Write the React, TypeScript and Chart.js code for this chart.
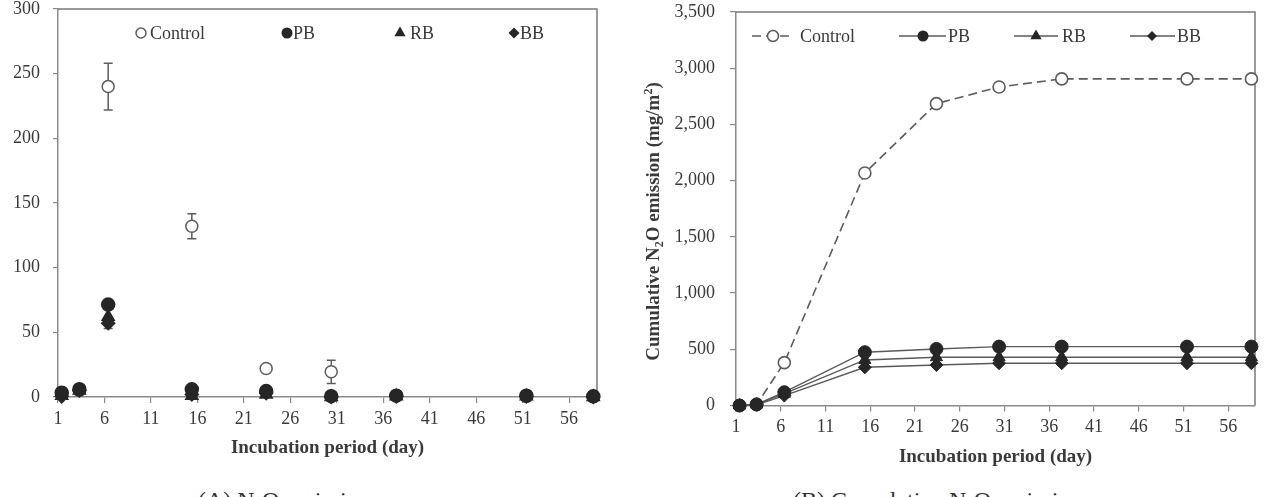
import React, { useEffect, useRef } from 'react';
import { Chart, registerables } from 'chart.js';

Chart.register(...registerables);

const FONT = "'Liberation Serif', 'Times New Roman', serif";
const INK = '#3a3a3a';
const AXIS = '#8a8a8a';
const FRAME = '#7a7a7a';
const MARK = '#262626';
const OPEN = '#5c5c5c';
const LINE = '#5a5a5a';

// Sampling days (incubation period)
const DAYS = [1.4, 3.3, 6.4, 15.4, 23.4, 30.4, 37.4, 51.4, 58.6];
const DAY_TICKS = [1, 6, 11, 16, 21, 26, 31, 36, 41, 46, 51, 56];
const SERIES = ['Control', 'PB', 'RB', 'BB'];

// (A) N2O emission on each sampling day
const EMIT_CONTROL = [3, 5, 240, 132, 22, 19.5, 1, 0.5, 0.3];
const EMIT_CONTROL_ERR = [0, 0, 18, 9.7, 0, 9, 0, 0, 0];
const EMIT_PB = [3.3, 6, 71.5, 5.9, 4.6, 0.6, 1, 1, 0.5];
const EMIT_RB = [1, 5, 62, 1, 2, 0, 0.5, 0.5, 0];
const EMIT_BB = [0.5, 5, 57, 2, 3, 0, 0.5, 0.5, 0];
const EMIT_BB_ERR = [0, 0, 4, 0, 0, 0, 0, 0, 0];

// (B) Cumulative N2O emission
const CUM_CONTROL = [0, 8, 381, 2068, 2685, 2833, 2905, 2905, 2905];
const CUM_PB = [0, 10, 118, 474, 503, 524, 524, 524, 524];
const CUM_RB = [0, 8, 105, 405, 429, 429, 429, 429, 429];
const CUM_BB = [0, 6, 88, 340, 360, 376, 376, 376, 376];

type MarkerStyle = 'circle' | 'triangle' | 'rectRot';

const pts = (ys: number[]) => DAYS.map((x, i) => ({ x, y: ys[i] }));

function markerPath(ctx: CanvasRenderingContext2D, style: MarkerStyle, x: number, y: number, r: number) {
  ctx.beginPath();
  if (style === 'circle') {
    ctx.arc(x, y, r, 0, Math.PI * 2);
  } else if (style === 'triangle') {
    ctx.moveTo(x, y - r);
    ctx.lineTo(x + r * 0.866, y + r * 0.5);
    ctx.lineTo(x - r * 0.866, y + r * 0.5);
    ctx.closePath();
  } else {
    ctx.moveTo(x - r, y);
    ctx.lineTo(x, y - r);
    ctx.lineTo(x + r, y);
    ctx.lineTo(x, y + r);
    ctx.closePath();
  }
}

type LegendEntry = {
  label: string;
  style: MarkerStyle;
  open: boolean;
  r: number;
  marker: number;
  text: number;
  line?: [number, number];
  dashed?: boolean;
};

function legendPlugin(entries: LegendEntry[], dy: number) {
  return {
    id: 'inlineLegend',
    afterDraw(chart: any) {
      const { ctx, chartArea } = chart;
      const y = chartArea.top + dy;
      const x0 = chartArea.left;
      ctx.save();
      for (const e of entries) {
        if (e.line) {
          ctx.beginPath();
          ctx.strokeStyle = e.dashed ? OPEN : LINE;
          ctx.lineWidth = 1.5;
          ctx.setLineDash(e.dashed ? [9, 5] : []);
          ctx.moveTo(x0 + e.line[0], y);
          ctx.lineTo(x0 + e.line[1], y);
          ctx.stroke();
          ctx.setLineDash([]);
        }
        markerPath(ctx, e.style, x0 + e.marker, y, e.r);
        if (e.open) {
          ctx.fillStyle = '#fff';
          ctx.fill();
          ctx.strokeStyle = OPEN;
          ctx.lineWidth = 1.5;
          ctx.stroke();
        } else {
          ctx.fillStyle = MARK;
          ctx.fill();
        }
        ctx.fillStyle = INK;
        ctx.font = `18px ${FONT}`;
        ctx.textAlign = 'left';
        ctx.textBaseline = 'middle';
        ctx.fillText(e.label, x0 + e.text, y + 1);
      }
      ctx.restore();
    },
  };
}

// Top and right sides of the plot frame
const framePlugin = {
  id: 'plotFrame',
  beforeDatasetsDraw(chart: any) {
    const { ctx, chartArea } = chart;
    ctx.save();
    ctx.strokeStyle = FRAME;
    ctx.lineWidth = 1.5;
    ctx.beginPath();
    ctx.moveTo(chartArea.left, chartArea.top);
    ctx.lineTo(chartArea.right, chartArea.top);
    ctx.lineTo(chartArea.right, chartArea.bottom);
    ctx.stroke();
    ctx.restore();
  },
};

function errorBarPlugin(sets: { dataset: number; err: number[] }[]) {
  return {
    id: 'errorBars',
    beforeDatasetsDraw(chart: any) {
      const { ctx } = chart;
      const xs = chart.scales.x;
      const ys = chart.scales.y;
      ctx.save();
      ctx.strokeStyle = OPEN;
      ctx.lineWidth = 1.5;
      for (const s of sets) {
        const data = chart.data.datasets[s.dataset].data as { x: number; y: number }[];
        s.err.forEach((e, i) => {
          if (!e) return;
          const x = xs.getPixelForValue(data[i].x);
          const yTop = ys.getPixelForValue(data[i].y + e);
          const yBot = ys.getPixelForValue(data[i].y - e);
          ctx.beginPath();
          ctx.moveTo(x, yTop);
          ctx.lineTo(x, yBot);
          ctx.moveTo(x - 4.5, yTop);
          ctx.lineTo(x + 4.5, yTop);
          ctx.moveTo(x - 4.5, yBot);
          ctx.lineTo(x + 4.5, yBot);
          ctx.stroke();
        });
      }
      ctx.restore();
    },
  };
}

type Seg = { t: string; sub?: boolean; sup?: boolean };

function yTitlePlugin(segs: Seg[], cx: number, cy: number, size: number) {
  return {
    id: 'yTitle',
    afterDraw(chart: any) {
      const { ctx } = chart;
      const big = `bold ${size}px ${FONT}`;
      const small = `bold ${Math.round(size * 0.62)}px ${FONT}`;
      ctx.save();
      let total = 0;
      for (const s of segs) {
        ctx.font = s.sub || s.sup ? small : big;
        total += ctx.measureText(s.t).width;
      }
      ctx.translate(cx, cy);
      ctx.rotate(-Math.PI / 2);
      ctx.fillStyle = INK;
      ctx.textBaseline = 'alphabetic';
      ctx.textAlign = 'left';
      let x = -total / 2;
      const base = size * 0.33;
      for (const s of segs) {
        ctx.font = s.sub || s.sup ? small : big;
        const off = s.sub ? size * 0.22 : s.sup ? -size * 0.38 : 0;
        ctx.fillText(s.t, x, base + off);
        x += ctx.measureText(s.t).width;
      }
      ctx.restore();
    },
  };
}

function dayAxis(height: number, titleBottom: number) {
  return {
    type: 'linear' as const,
    min: 1,
    max: 59,
    afterBuildTicks: (s: any) => {
      s.ticks = DAY_TICKS.map((v) => ({ value: v }));
    },
    afterFit: (s: any) => {
      s.height = height;
      s.paddingLeft = 0;
      s.paddingRight = 0;
    },
    grid: { drawOnChartArea: false, drawTicks: true, tickLength: 6, color: AXIS, lineWidth: 1.2 },
    border: { display: true, color: AXIS, width: 1.5 },
    ticks: {
      color: INK,
      font: { family: FONT, size: 18 },
      padding: 5,
      maxRotation: 0,
      autoSkip: false,
      callback: (v: any) => String(v),
    },
    title: {
      display: true,
      text: 'Incubation period (day)',
      color: INK,
      font: { family: FONT, size: 19, weight: 'bold' as const },
      padding: { top: 0, bottom: titleBottom },
    },
  };
}

function valueAxis(max: number, step: number, width: number, tickLen: number, pad: number, fmt: (v: number) => string) {
  return {
    type: 'linear' as const,
    min: 0,
    max,
    afterFit: (s: any) => {
      s.width = width;
      s.paddingTop = 0;
      s.paddingBottom = 0;
    },
    grid: { drawOnChartArea: false, drawTicks: true, tickLength: tickLen, color: AXIS, lineWidth: 1.2 },
    border: { display: true, color: AXIS, width: 1.5 },
    ticks: {
      stepSize: step,
      color: INK,
      font: { family: FONT, size: 18 },
      padding: pad,
      callback: (v: any) => fmt(Number(v)),
    },
  };
}

const withCommas = (v: number) => String(Math.round(v)).replace(/\B(?=(\d{3})+(?!\d))/g, ',');

function emissionConfig(): any {
  const common = { showLine: false, clip: false as const, pointBorderWidth: 1.5 };
  return {
    type: 'scatter',
    data: {
      datasets: [
        {
          ...common,
          label: SERIES[0],
          data: pts(EMIT_CONTROL),
          pointStyle: 'circle',
          pointRadius: 6,
          pointBackgroundColor: '#fff',
          pointBorderColor: OPEN,
          order: 4,
        },
        {
          ...common,
          label: SERIES[1],
          data: pts(EMIT_PB),
          pointStyle: 'circle',
          pointRadius: 6.5,
          pointBackgroundColor: MARK,
          pointBorderColor: MARK,
          order: 1,
        },
        {
          ...common,
          label: SERIES[2],
          data: pts(EMIT_RB),
          pointStyle: 'triangle',
          pointRadius: 7,
          pointBackgroundColor: MARK,
          pointBorderColor: MARK,
          order: 2,
        },
        {
          ...common,
          label: SERIES[3],
          data: pts(EMIT_BB),
          pointStyle: 'rectRot',
          pointRadius: 6.5,
          pointBackgroundColor: MARK,
          pointBorderColor: MARK,
          order: 3,
        },
      ],
    },
    options: {
      animation: false,
      responsive: false,
      devicePixelRatio: 1,
      layout: { padding: { top: 9, right: 23, left: 0, bottom: 0 } },
      plugins: { legend: { display: false }, tooltip: { enabled: false } },
      scales: {
        x: dayAxis(78, 15.6),
        y: valueAxis(300, 50, 58, 5, 13, (v) => String(v)),
      },
    },
    plugins: [
      framePlugin,
      errorBarPlugin([
        { dataset: 0, err: EMIT_CONTROL_ERR },
        { dataset: 3, err: EMIT_BB_ERR },
      ]),
      legendPlugin(
        [
          { label: SERIES[0], style: 'circle', open: true, r: 5, marker: 83, text: 92 },
          { label: SERIES[1], style: 'circle', open: false, r: 5.5, marker: 229, text: 235 },
          { label: SERIES[2], style: 'triangle', open: false, r: 6.5, marker: 342, text: 352 },
          { label: SERIES[3], style: 'rectRot', open: false, r: 5.5, marker: 456, text: 462 },
        ],
        24,
      ),
    ],
  };
}

function cumulativeConfig(): any {
  const solid = { showLine: true, clip: false as const, borderColor: LINE, borderWidth: 1.4, tension: 0, pointBorderWidth: 1 };
  return {
    type: 'scatter',
    data: {
      datasets: [
        {
          showLine: true,
          clip: false,
          tension: 0,
          label: SERIES[0],
          data: pts(CUM_CONTROL),
          borderColor: OPEN,
          borderWidth: 1.6,
          borderDash: [9, 5],
          pointStyle: 'circle',
          pointRadius: 6,
          pointBackgroundColor: '#fff',
          pointBorderColor: OPEN,
          pointBorderWidth: 1.6,
          order: 4,
        },
        {
          ...solid,
          label: SERIES[1],
          data: pts(CUM_PB),
          pointStyle: 'circle',
          pointRadius: 6.5,
          pointBackgroundColor: MARK,
          pointBorderColor: MARK,
          order: 1,
        },
        {
          ...solid,
          label: SERIES[2],
          data: pts(CUM_RB),
          pointStyle: 'triangle',
          pointRadius: 7,
          pointBackgroundColor: MARK,
          pointBorderColor: MARK,
          order: 2,
        },
        {
          ...solid,
          label: SERIES[3],
          data: pts(CUM_BB),
          pointStyle: 'rectRot',
          pointRadius: 6.5,
          pointBackgroundColor: MARK,
          pointBorderColor: MARK,
          order: 3,
        },
      ],
    },
    options: {
      animation: false,
      responsive: false,
      devicePixelRatio: 1,
      layout: { padding: { top: 12, right: 11, left: 0, bottom: 0 } },
      plugins: { legend: { display: false }, tooltip: { enabled: false } },
      scales: {
        x: dayAxis(69.5, 6.9),
        y: valueAxis(3500, 500, 106, 6, 15, withCommas),
      },
    },
    plugins: [
      framePlugin,
      legendPlugin(
        [
          { label: SERIES[0], style: 'circle', open: true, r: 5.5, marker: 37, text: 64, line: [16, 54], dashed: true },
          { label: SERIES[1], style: 'circle', open: false, r: 5.5, marker: 187, text: 212, line: [163, 210] },
          { label: SERIES[2], style: 'triangle', open: false, r: 6.5, marker: 300, text: 326, line: [278, 322] },
          { label: SERIES[3], style: 'rectRot', open: false, r: 5, marker: 416, text: 441, line: [394, 439] },
        ],
        24,
      ),
      yTitlePlugin(
        [
          { t: 'Cumulative N' },
          { t: '2', sub: true },
          { t: 'O emission (mg/m' },
          { t: '2', sup: true },
          { t: ')' },
        ],
        23,
        221.5,
        19,
      ),
    ],
  };
}

const captionStyle = (left: number): React.CSSProperties => ({
  position: 'absolute',
  left,
  top: 488,
  fontFamily: FONT,
  fontSize: 24,
  lineHeight: '24px',
  color: '#333',
  whiteSpace: 'nowrap',
});

const subStyle: React.CSSProperties = { fontSize: '0.62em', verticalAlign: '-0.25em', lineHeight: 0 };

export default function App() {
  const leftRef = useRef<HTMLCanvasElement>(null);
  const rightRef = useRef<HTMLCanvasElement>(null);

  useEffect(() => {
    const a = new Chart(leftRef.current as HTMLCanvasElement, emissionConfig());
    const b = new Chart(rightRef.current as HTMLCanvasElement, cumulativeConfig());
    return () => {
      a.destroy();
      b.destroy();
    };
  }, []);

  return (
    <div
      style={{
        position: 'fixed',
        left: 0,
        top: 0,
        width: 1266,
        height: 497,
        overflow: 'hidden',
        background: '#fff',
      }}
    >
      <canvas
        ref={leftRef}
        width={620}
        height={475}
        style={{ position: 'absolute', left: 0, top: 0, width: 620, height: 475 }}
      />
      <canvas
        ref={rightRef}
        width={636}
        height={475}
        style={{ position: 'absolute', left: 630, top: 0, width: 636, height: 475 }}
      />
      <div style={captionStyle(198)}>
        (A) N<span style={subStyle}>2</span>O emission
      </div>
      <div style={captionStyle(793)}>
        (B) Cumulative N<span style={subStyle}>2</span>O emission
      </div>
    </div>
  );
}
